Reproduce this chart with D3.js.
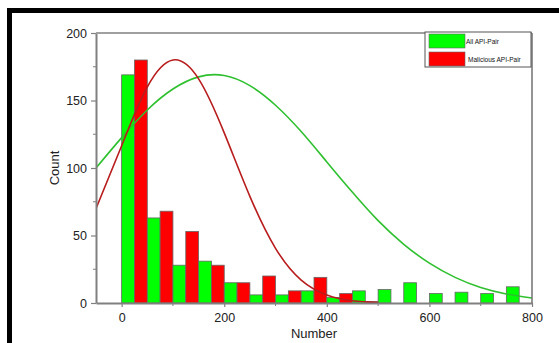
<!DOCTYPE html>
<html>
<head>
<meta charset="utf-8">
<script src="https://cdn.jsdelivr.net/npm/d3@7"></script>
<style>
  body { margin: 0; background: #fff; }
  svg { display: block; font-family: "Liberation Sans", Arial, sans-serif; }
</style>
</head>
<body>
<svg id="chart" width="559" height="343"></svg>
<script>
// histogram bins (start of each 50-wide bin)
var binStarts = [0, 50, 100, 150, 200, 250, 300, 350, 400, 450, 500, 550, 600, 650, 700, 750];
var allCounts = [169, 63, 28, 31, 15, 6, 6, 9, 4, 9, 10, 15, 7, 8, 7, 12];
var maliciousCounts = [180, 68, 53, 28, 15, 20, 9, 19, 7, 1, 0, 0, 0, 0, 0, 0];

// fitted curves
var allCurveX = [-50, 0, 50, 100, 150, 200, 250, 300, 350, 400, 450, 500, 550, 600, 650, 700, 750, 800];
var allCurveY = [100, 122.5, 143, 158.5, 167.5, 168.5, 161, 146.5, 127, 104.5, 82, 61, 43.5, 29.5, 19, 11.5, 6.7, 3.7];
var malCurveX = [-50, 0, 50, 100, 150, 200, 250, 300, 350, 400, 450, 500];
var malCurveY = [70, 116.5, 160, 180, 166, 126, 79, 40.5, 17, 6, 1.7, 0.4];

var xTicks = [0, 200, 400, 600, 800];
var yTicks = [0, 50, 100, 150, 200];
var legendLabels = ["All API-Pair", "Malicious API-Pair"];

var svg = d3.select("#chart");
var pLeft = 96, pRight = 532, pTop = 33, pBottom = 303;

var x = d3.scaleLinear().domain([-50, 800]).range([pLeft, pRight]);
var y = d3.scaleLinear().domain([0, 200]).range([pBottom, pTop]);
var axisColor = "#808080";

// outer black frame (runs off the right and bottom)
svg.append("rect")
    .attr("x", 9.5).attr("y", 10.5)
    .attr("width", 600).attr("height", 400)
    .attr("fill", "none")
    .attr("stroke", "#000")
    .attr("stroke-width", 5);

svg.append("defs").append("clipPath").attr("id", "plotClip")
  .append("rect")
    .attr("x", pLeft).attr("y", pTop)
    .attr("width", pRight - pLeft).attr("height", pBottom - pTop);

// bars
var half = 25;
var bars = svg.append("g");
binStarts.forEach(function(b, i) {
  if (allCounts[i] > 0) {
    bars.append("rect")
      .attr("x", x(b)).attr("y", y(allCounts[i]))
      .attr("width", x(b + half) - x(b))
      .attr("height", y(0) - y(allCounts[i]))
      .attr("fill", "#00ff00")
      .attr("stroke", "#666").attr("stroke-width", 0.8);
  }
  if (maliciousCounts[i] > 0) {
    bars.append("rect")
      .attr("x", x(b + half)).attr("y", y(maliciousCounts[i]))
      .attr("width", x(b + 2 * half) - x(b + half))
      .attr("height", y(0) - y(maliciousCounts[i]))
      .attr("fill", "#ff0000")
      .attr("stroke", "#666").attr("stroke-width", 0.8);
  }
});

// fitted curves
var line = d3.line()
    .x(function(d) { return x(d[0]); })
    .y(function(d) { return y(d[1]); })
    .curve(d3.curveNatural);

var curves = svg.append("g").attr("clip-path", "url(#plotClip)");
curves.append("path")
    .datum(d3.zip(allCurveX, allCurveY))
    .attr("d", line)
    .attr("fill", "none")
    .attr("stroke", "#2ec02e")
    .attr("stroke-width", 1.6);
curves.append("path")
    .datum(d3.zip(malCurveX, malCurveY))
    .attr("d", line)
    .attr("fill", "none")
    .attr("stroke", "#b81c1c")
    .attr("stroke-width", 1.6);

// axes
var xAxis = d3.axisBottom(x).tickValues(xTicks).tickSize(4).tickSizeOuter(0);
var yAxis = d3.axisLeft(y).tickValues(yTicks).tickSize(5).tickSizeOuter(0);

var gX = svg.append("g").attr("transform", "translate(0," + pBottom + ")").call(xAxis);
var gY = svg.append("g").attr("transform", "translate(" + pLeft + ",0)").call(yAxis);

// minor ticks
svg.append("g").selectAll("line")
  .data([100, 300, 500, 700])
  .enter().append("line")
    .attr("x1", function(d) { return x(d); }).attr("x2", function(d) { return x(d); })
    .attr("y1", pBottom).attr("y2", pBottom + 3)
    .attr("stroke", axisColor);
svg.append("g").selectAll("line")
  .data([25, 75, 125, 175])
  .enter().append("line")
    .attr("x1", pLeft).attr("x2", pLeft - 3)
    .attr("y1", function(d) { return y(d); }).attr("y2", function(d) { return y(d); })
    .attr("stroke", axisColor);

[gX, gY].forEach(function(g) {
  g.select(".domain").attr("stroke", axisColor).attr("stroke-width", 2);
  g.selectAll(".tick line").attr("stroke", axisColor).attr("stroke-width", 1.2);
  g.selectAll(".tick text").attr("fill", "#222").style("font-size", "12.5px");
});
gX.selectAll(".tick text").attr("dy", "0.95em");
gY.selectAll(".tick text").attr("dx", "-1px");

// top and right frame of the plot
svg.append("line")
    .attr("x1", pLeft).attr("x2", pRight).attr("y1", pTop).attr("y2", pTop)
    .attr("stroke", "#a0a0a0").attr("stroke-width", 2);
svg.append("line")
    .attr("x1", pRight).attr("x2", pRight).attr("y1", pTop).attr("y2", pBottom)
    .attr("stroke", "#707070").attr("stroke-width", 1.5);

// axis titles
svg.append("text")
    .attr("x", (pLeft + pRight) / 2).attr("y", 338)
    .attr("text-anchor", "middle")
    .style("font-size", "13px").attr("fill", "#222")
    .text("Number");
svg.append("text")
    .attr("transform", "translate(59," + 168 + ") rotate(-90)")
    .attr("text-anchor", "middle")
    .style("font-size", "13px").attr("fill", "#222")
    .text("Count");

// legend
var legend = svg.append("g");
legend.append("rect")
    .attr("x", 425).attr("y", 32)
    .attr("width", 106).attr("height", 35)
    .attr("fill", "#fff")
    .attr("stroke", "#555").attr("stroke-width", 1);
var legendColors = ["#00ff00", "#ff0000"];
legendLabels.forEach(function(lab, i) {
  legend.append("rect")
      .attr("x", 429).attr("y", 34 + i * 18)
      .attr("width", 36).attr("height", 14)
      .attr("fill", legendColors[i])
      .attr("stroke", "#666").attr("stroke-width", 0.6);
  legend.append("text")
      .attr("x", 466 + i * 2).attr("y", 44 + i * 18)
      .style("font-size", "6.5px").attr("fill", "#111")
      .text(lab);
});
</script>
</body>
</html>
